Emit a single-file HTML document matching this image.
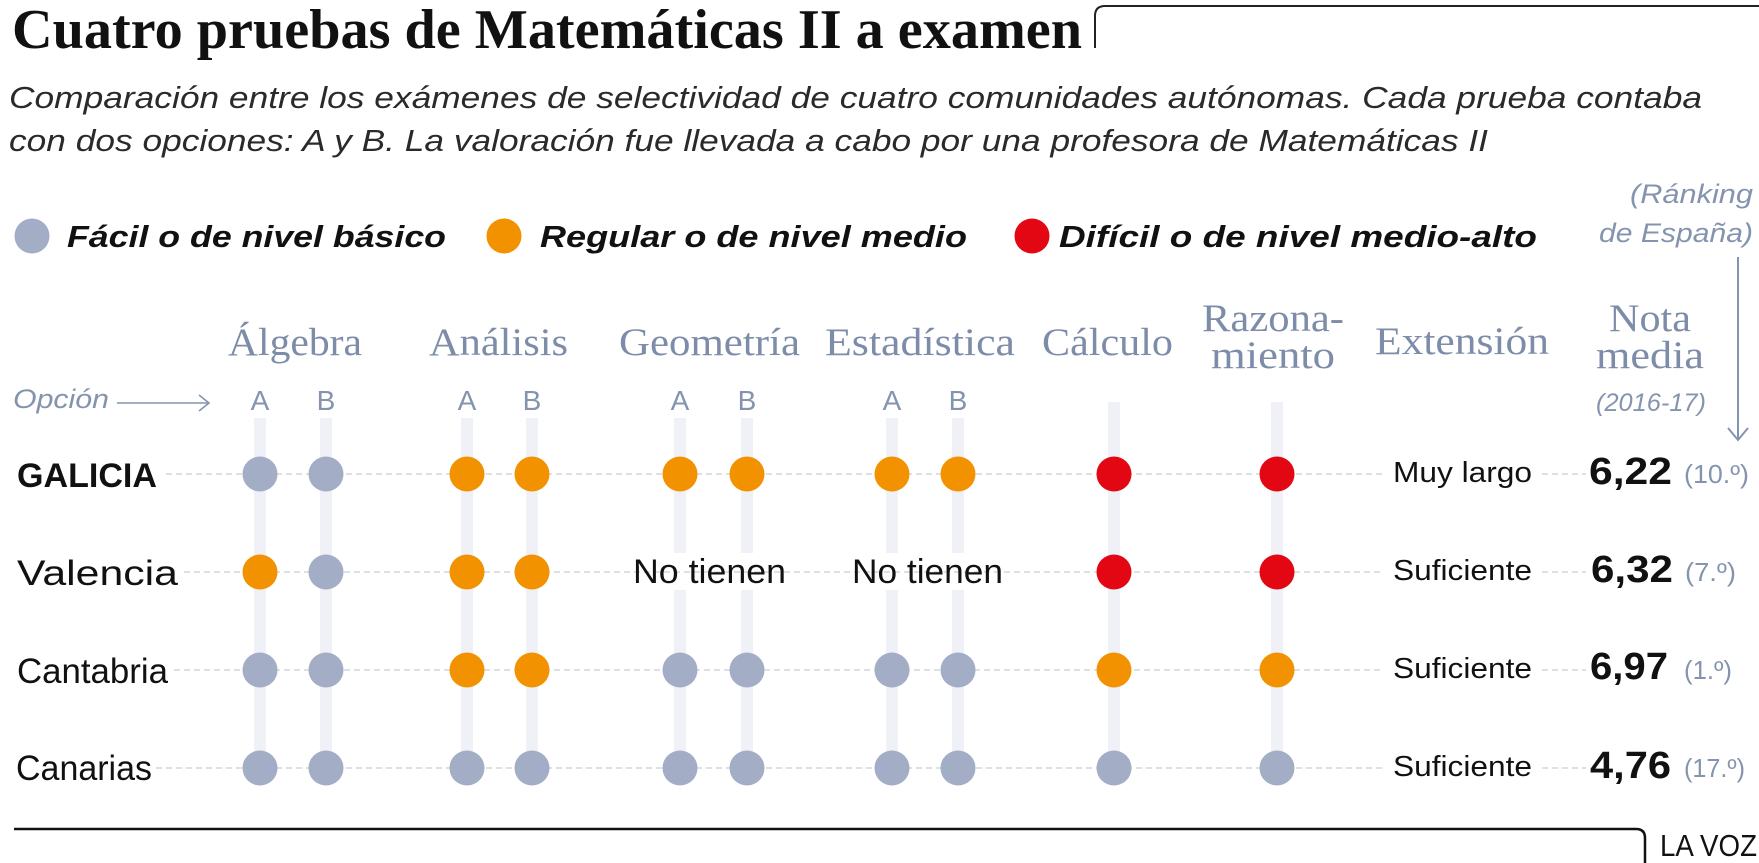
<!DOCTYPE html>
<html>
<head>
<meta charset="utf-8">
<style>
  html,body{margin:0;padding:0;background:#fff;}
  svg{display:block;}
  .sans{font-family:"Liberation Sans",sans-serif;}
  .serif{font-family:"Liberation Serif",serif;}
</style>
</head>
<body>
<svg width="1759" height="863" viewBox="0 0 1759 863" xmlns="http://www.w3.org/2000/svg">
  <rect x="0" y="0" width="1759" height="863" fill="#fff"/>

  <!-- Title -->
  <text class="serif" x="12" y="48" font-size="56" font-weight="bold" fill="#111" textLength="1070" lengthAdjust="spacingAndGlyphs">Cuatro pruebas de Matemáticas II a examen</text>
  <path d="M1095,48 L1095,16 Q1095,6 1105,6 L1759,6" fill="none" stroke="#222" stroke-width="2"/>

  <!-- Subtitle -->
  <text class="sans" x="9" y="108" font-size="31" font-style="italic" fill="#2a2a2a" textLength="1693" lengthAdjust="spacingAndGlyphs">Comparación entre los exámenes de selectividad de cuatro comunidades autónomas. Cada prueba contaba</text>
  <text class="sans" x="9" y="151" font-size="31" font-style="italic" fill="#2a2a2a" textLength="1479" lengthAdjust="spacingAndGlyphs">con dos opciones: A y B. La valoración fue llevada a cabo por una profesora de Matemáticas II</text>

  <!-- Legend -->
  <circle cx="32" cy="236" r="17.5" fill="#a3aec6"/>
  <text class="sans" x="67" y="247" font-size="31" font-weight="bold" font-style="italic" fill="#111" textLength="379" lengthAdjust="spacingAndGlyphs">Fácil o de nivel básico</text>
  <circle cx="504" cy="236" r="17.5" fill="#f39200"/>
  <text class="sans" x="540" y="247" font-size="31" font-weight="bold" font-style="italic" fill="#111" textLength="427" lengthAdjust="spacingAndGlyphs">Regular o de nivel medio</text>
  <circle cx="1032" cy="236" r="17.5" fill="#e30613"/>
  <text class="sans" x="1059" y="247" font-size="31" font-weight="bold" font-style="italic" fill="#111" textLength="478" lengthAdjust="spacingAndGlyphs">Difícil o de nivel medio-alto</text>

  <!-- Ranking note -->
  <text class="sans" x="1630" y="203" font-size="27" font-style="italic" fill="#8594ae" textLength="123" lengthAdjust="spacingAndGlyphs">(Ránking</text>
  <text class="sans" x="1599" y="242" font-size="27" font-style="italic" fill="#8594ae" textLength="154" lengthAdjust="spacingAndGlyphs">de España)</text>
  <line x1="1738" y1="257" x2="1738" y2="440" stroke="#8594ae" stroke-width="2"/>
  <path d="M1728,428 L1738,440 L1748,428" fill="none" stroke="#8594ae" stroke-width="2"/>

  <!-- Column headers -->
  <g class="serif" font-size="39" fill="#7d8ca8">
    <text x="228" y="355" textLength="134" lengthAdjust="spacingAndGlyphs">Álgebra</text>
    <text x="429" y="355" textLength="139" lengthAdjust="spacingAndGlyphs">Análisis</text>
    <text x="619" y="355" textLength="181" lengthAdjust="spacingAndGlyphs">Geometría</text>
    <text x="825" y="355" textLength="190" lengthAdjust="spacingAndGlyphs">Estadística</text>
    <text x="1042" y="355" textLength="131" lengthAdjust="spacingAndGlyphs">Cálculo</text>
    <text x="1202" y="331" textLength="142" lengthAdjust="spacingAndGlyphs">Razona-</text>
    <text x="1211" y="368" textLength="124" lengthAdjust="spacingAndGlyphs">miento</text>
    <text x="1375" y="354" textLength="174" lengthAdjust="spacingAndGlyphs">Extensión</text>
    <text x="1609" y="331" textLength="82" lengthAdjust="spacingAndGlyphs">Nota</text>
    <text x="1596" y="368" textLength="108" lengthAdjust="spacingAndGlyphs">media</text>
  </g>
  <text class="sans" x="1596" y="411" font-size="25" font-style="italic" fill="#8594ae" textLength="110" lengthAdjust="spacingAndGlyphs">(2016-17)</text>

  <!-- Opción -->
  <text class="sans" x="13" y="408" font-size="27" font-style="italic" fill="#8594ae" textLength="96" lengthAdjust="spacingAndGlyphs">Opción</text>
  <line x1="117" y1="403" x2="209" y2="403" stroke="#8594ae" stroke-width="1.6"/>
  <path d="M199,395 L209,403 L199,411" fill="none" stroke="#8594ae" stroke-width="1.6"/>

  <!-- A/B labels -->
  <g class="sans" font-size="28" fill="#8594ae" text-anchor="middle">
    <text x="260" y="410">A</text><text x="326" y="410">B</text>
    <text x="467" y="410">A</text><text x="532" y="410">B</text>
    <text x="680" y="410">A</text><text x="747" y="410">B</text>
    <text x="892" y="410">A</text><text x="958" y="410">B</text>
  </g>

  <!-- Vertical tracks -->
  <g fill="#eff1f6">
    <rect x="254" y="418" width="12" height="350"/>
    <rect x="320" y="418" width="12" height="350"/>
    <rect x="461" y="418" width="12" height="350"/>
    <rect x="526" y="418" width="12" height="350"/>
    <rect x="674" y="418" width="12" height="135"/>
    <rect x="674" y="590" width="12" height="178"/>
    <rect x="741" y="418" width="12" height="135"/>
    <rect x="741" y="590" width="12" height="178"/>
    <rect x="886" y="418" width="12" height="135"/>
    <rect x="886" y="590" width="12" height="178"/>
    <rect x="952" y="418" width="12" height="135"/>
    <rect x="952" y="590" width="12" height="178"/>
    <rect x="1108" y="402" width="12" height="366"/>
    <rect x="1271" y="402" width="12" height="366"/>
  </g>

  <!-- Dashed row lines -->
  <g stroke="#c9cdd4" stroke-width="1.3" stroke-dasharray="6 4" fill="none">
    <line x1="166" y1="474" x2="1384" y2="474"/><line x1="1542" y1="474" x2="1586" y2="474"/>
    <line x1="184" y1="572" x2="1384" y2="572"/><line x1="1542" y1="572" x2="1586" y2="572"/>
    <line x1="174" y1="670" x2="1384" y2="670"/><line x1="1542" y1="670" x2="1586" y2="670"/>
    <line x1="156" y1="768" x2="1384" y2="768"/><line x1="1542" y1="768" x2="1586" y2="768"/>
  </g>

  <!-- Row labels -->
  <text class="sans" x="17" y="487" font-size="34" font-weight="bold" fill="#111" textLength="140" lengthAdjust="spacingAndGlyphs">GALICIA</text>
  <text class="sans" x="17" y="585" font-size="35" fill="#111" textLength="161" lengthAdjust="spacingAndGlyphs">Valencia</text>
  <text class="sans" x="17" y="683" font-size="35" fill="#111" textLength="151" lengthAdjust="spacingAndGlyphs">Cantabria</text>
  <text class="sans" x="16" y="780" font-size="35" fill="#111" textLength="136" lengthAdjust="spacingAndGlyphs">Canarias</text>

  <!-- Dots -->
  <g>
    <!-- Galicia -->
    <circle cx="260" cy="474" r="17.5" fill="#a3aec6"/>
    <circle cx="326" cy="474" r="17.5" fill="#a3aec6"/>
    <circle cx="467" cy="474" r="17.5" fill="#f39200"/>
    <circle cx="532" cy="474" r="17.5" fill="#f39200"/>
    <circle cx="680" cy="474" r="17.5" fill="#f39200"/>
    <circle cx="747" cy="474" r="17.5" fill="#f39200"/>
    <circle cx="892" cy="474" r="17.5" fill="#f39200"/>
    <circle cx="958" cy="474" r="17.5" fill="#f39200"/>
    <circle cx="1114" cy="474" r="17.5" fill="#e30613"/>
    <circle cx="1277" cy="474" r="17.5" fill="#e30613"/>
    <!-- Valencia -->
    <circle cx="260" cy="572" r="17.5" fill="#f39200"/>
    <circle cx="326" cy="572" r="17.5" fill="#a3aec6"/>
    <circle cx="467" cy="572" r="17.5" fill="#f39200"/>
    <circle cx="532" cy="572" r="17.5" fill="#f39200"/>
    <circle cx="1114" cy="572" r="17.5" fill="#e30613"/>
    <circle cx="1277" cy="572" r="17.5" fill="#e30613"/>
    <!-- Cantabria -->
    <circle cx="260" cy="670" r="17.5" fill="#a3aec6"/>
    <circle cx="326" cy="670" r="17.5" fill="#a3aec6"/>
    <circle cx="467" cy="670" r="17.5" fill="#f39200"/>
    <circle cx="532" cy="670" r="17.5" fill="#f39200"/>
    <circle cx="680" cy="670" r="17.5" fill="#a3aec6"/>
    <circle cx="747" cy="670" r="17.5" fill="#a3aec6"/>
    <circle cx="892" cy="670" r="17.5" fill="#a3aec6"/>
    <circle cx="958" cy="670" r="17.5" fill="#a3aec6"/>
    <circle cx="1114" cy="670" r="17.5" fill="#f39200"/>
    <circle cx="1277" cy="670" r="17.5" fill="#f39200"/>
    <!-- Canarias -->
    <circle cx="260" cy="768" r="17.5" fill="#a3aec6"/>
    <circle cx="326" cy="768" r="17.5" fill="#a3aec6"/>
    <circle cx="467" cy="768" r="17.5" fill="#a3aec6"/>
    <circle cx="532" cy="768" r="17.5" fill="#a3aec6"/>
    <circle cx="680" cy="768" r="17.5" fill="#a3aec6"/>
    <circle cx="747" cy="768" r="17.5" fill="#a3aec6"/>
    <circle cx="892" cy="768" r="17.5" fill="#a3aec6"/>
    <circle cx="958" cy="768" r="17.5" fill="#a3aec6"/>
    <circle cx="1114" cy="768" r="17.5" fill="#a3aec6"/>
    <circle cx="1277" cy="768" r="17.5" fill="#a3aec6"/>
  </g>

  <!-- No tienen -->
  <text class="sans" x="633" y="583" font-size="34" fill="#111" textLength="153" lengthAdjust="spacingAndGlyphs">No tienen</text>
  <text class="sans" x="852" y="583" font-size="34" fill="#111" textLength="151" lengthAdjust="spacingAndGlyphs">No tienen</text>

  <!-- Extension -->
  <g class="sans" font-size="29" fill="#111">
    <text x="1393" y="482" textLength="139" lengthAdjust="spacingAndGlyphs">Muy largo</text>
    <text x="1393" y="580" textLength="139" lengthAdjust="spacingAndGlyphs">Suficiente</text>
    <text x="1393" y="678" textLength="139" lengthAdjust="spacingAndGlyphs">Suficiente</text>
    <text x="1393" y="776" textLength="139" lengthAdjust="spacingAndGlyphs">Suficiente</text>
  </g>

  <!-- Nota media -->
  <g class="sans" font-size="38" font-weight="bold" fill="#111">
    <text x="1589" y="484" textLength="83" lengthAdjust="spacingAndGlyphs">6,22</text>
    <text x="1591" y="582" textLength="82" lengthAdjust="spacingAndGlyphs">6,32</text>
    <text x="1590" y="679" textLength="78" lengthAdjust="spacingAndGlyphs">6,97</text>
    <text x="1590" y="778" textLength="81" lengthAdjust="spacingAndGlyphs">4,76</text>
  </g>
  <g class="sans" font-size="26" fill="#8594ae">
    <text x="1684" y="483" textLength="65" lengthAdjust="spacingAndGlyphs">(10.º)</text>
    <text x="1685" y="581" textLength="51" lengthAdjust="spacingAndGlyphs">(7.º)</text>
    <text x="1684" y="679" textLength="48" lengthAdjust="spacingAndGlyphs">(1.º)</text>
    <text x="1684" y="777" textLength="61" lengthAdjust="spacingAndGlyphs">(17.º)</text>
  </g>

  <!-- Footer -->
  <path d="M14,829 L1636,829 Q1645,829 1645,838 L1645,863" fill="none" stroke="#111" stroke-width="2.5"/>
  <text class="sans" x="1660" y="856" font-size="31" fill="#111" textLength="97" lengthAdjust="spacingAndGlyphs">LA VOZ</text>
</svg>
</body>
</html>
